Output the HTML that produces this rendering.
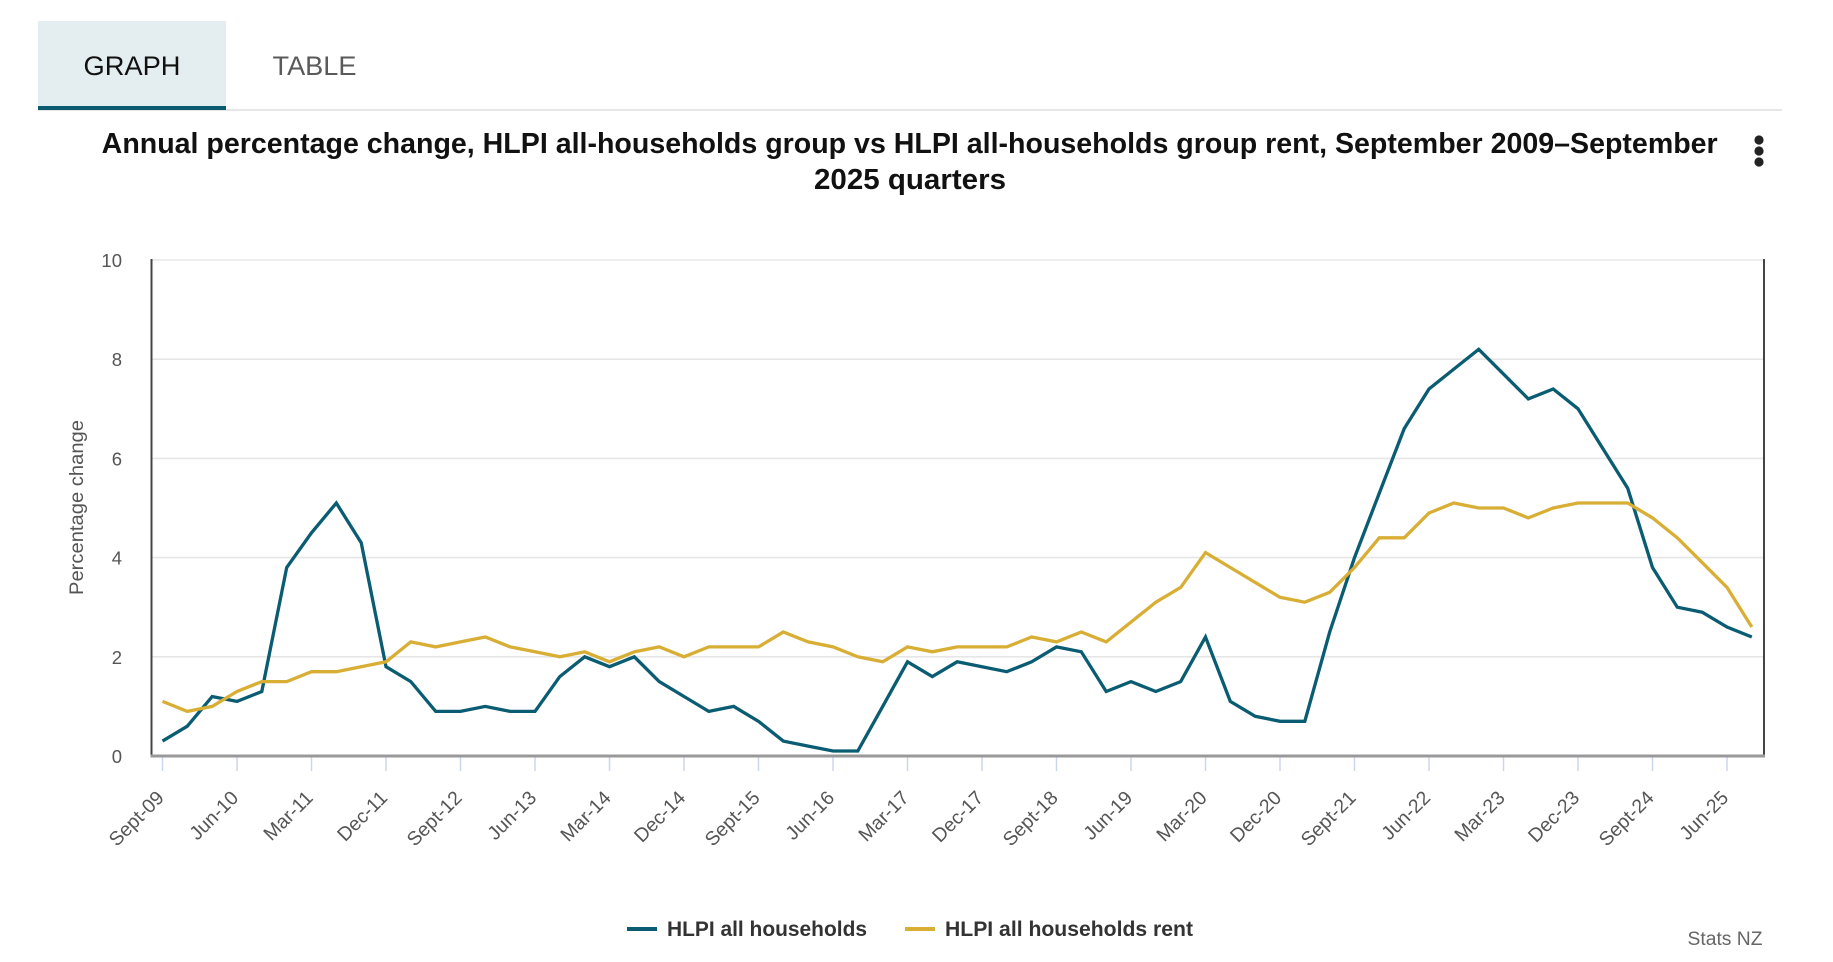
<!DOCTYPE html>
<html>
<head>
<meta charset="utf-8">
<style>
  html, body { margin: 0; padding: 0; background: #ffffff; }
  svg { display: block; }
  text { font-family: "Liberation Sans", Arial, sans-serif; }
</style>
</head>
<body>
<svg width="1833" height="962" viewBox="0 0 1833 962" xmlns="http://www.w3.org/2000/svg">
  <rect x="0" y="0" width="1833" height="962" fill="#ffffff"/>

  <!-- Tabs -->
  <rect x="38" y="21" width="188" height="89" fill="#e4edf0"/>
  <line x1="38" y1="110" x2="1782" y2="110" stroke="#dddddd" stroke-width="1.5"/>
  <rect x="38" y="106" width="188" height="4" fill="#0b5a70"/>
  <text x="132" y="75" font-size="27" fill="#111111" text-anchor="middle" textLength="97" lengthAdjust="spacingAndGlyphs">GRAPH</text>
  <text x="272.5" y="75" font-size="27" fill="#5a5a5a" textLength="84" lengthAdjust="spacingAndGlyphs">TABLE</text>

  <!-- Title -->
  <text x="101.7" y="153" font-size="28.5" font-weight="bold" fill="#111111" textLength="1616" lengthAdjust="spacingAndGlyphs">Annual percentage change, HLPI all-households group vs HLPI all-households group rent, September 2009–September</text>
  <text x="910" y="189" font-size="28.5" font-weight="bold" fill="#111111" text-anchor="middle" textLength="192" lengthAdjust="spacingAndGlyphs">2025 quarters</text>

  <!-- Menu dots -->
  <circle cx="1759" cy="140" r="4.6" fill="#222222"/>
  <circle cx="1759" cy="151" r="4.6" fill="#222222"/>
  <circle cx="1759" cy="162" r="4.6" fill="#222222"/>

  <!-- Gridlines -->
  <g stroke="#e6e6e6" stroke-width="1.6">
    <line x1="151.5" y1="260" x2="1764" y2="260"/>
    <line x1="151.5" y1="359.2" x2="1764" y2="359.2"/>
    <line x1="151.5" y1="458.4" x2="1764" y2="458.4"/>
    <line x1="151.5" y1="557.6" x2="1764" y2="557.6"/>
    <line x1="151.5" y1="656.8" x2="1764" y2="656.8"/>
  </g>

  <!-- Y labels -->
  <g font-size="18.5" fill="#555555" text-anchor="end">
    <text x="122" y="267">10</text>
    <text x="122" y="366.2">8</text>
    <text x="122" y="465.4">6</text>
    <text x="122" y="564.6">4</text>
    <text x="122" y="663.8">2</text>
    <text x="122" y="763">0</text>
  </g>

  <!-- Y axis title -->
  <text transform="translate(83,507.5) rotate(-90)" font-size="19" fill="#555555" text-anchor="middle" textLength="175" lengthAdjust="spacingAndGlyphs">Percentage change</text>

  <!-- Ticks -->
  <g stroke="#ccd6eb" stroke-width="1.5">
    <line x1="162.5" y1="757" x2="162.5" y2="771"/>
    <line x1="237" y1="757" x2="237" y2="771"/>
    <line x1="311.5" y1="757" x2="311.5" y2="771"/>
    <line x1="386" y1="757" x2="386" y2="771"/>
    <line x1="460.5" y1="757" x2="460.5" y2="771"/>
    <line x1="535" y1="757" x2="535" y2="771"/>
    <line x1="609.5" y1="757" x2="609.5" y2="771"/>
    <line x1="684" y1="757" x2="684" y2="771"/>
    <line x1="758.5" y1="757" x2="758.5" y2="771"/>
    <line x1="833" y1="757" x2="833" y2="771"/>
    <line x1="907.5" y1="757" x2="907.5" y2="771"/>
    <line x1="982" y1="757" x2="982" y2="771"/>
    <line x1="1056.5" y1="757" x2="1056.5" y2="771"/>
    <line x1="1131" y1="757" x2="1131" y2="771"/>
    <line x1="1205.5" y1="757" x2="1205.5" y2="771"/>
    <line x1="1280" y1="757" x2="1280" y2="771"/>
    <line x1="1354.5" y1="757" x2="1354.5" y2="771"/>
    <line x1="1429" y1="757" x2="1429" y2="771"/>
    <line x1="1503.5" y1="757" x2="1503.5" y2="771"/>
    <line x1="1578" y1="757" x2="1578" y2="771"/>
    <line x1="1652.5" y1="757" x2="1652.5" y2="771"/>
    <line x1="1727" y1="757" x2="1727" y2="771"/>
  </g>

  <!-- X labels -->
  <g font-size="19.5" fill="#555555" text-anchor="end">
    <text transform="translate(165,799) rotate(-45)">Sept-09</text>
    <text transform="translate(239.5,799) rotate(-45)">Jun-10</text>
    <text transform="translate(314,799) rotate(-45)">Mar-11</text>
    <text transform="translate(388.5,799) rotate(-45)">Dec-11</text>
    <text transform="translate(463,799) rotate(-45)">Sept-12</text>
    <text transform="translate(537.5,799) rotate(-45)">Jun-13</text>
    <text transform="translate(612,799) rotate(-45)">Mar-14</text>
    <text transform="translate(686.5,799) rotate(-45)">Dec-14</text>
    <text transform="translate(761,799) rotate(-45)">Sept-15</text>
    <text transform="translate(835.5,799) rotate(-45)">Jun-16</text>
    <text transform="translate(910,799) rotate(-45)">Mar-17</text>
    <text transform="translate(984.5,799) rotate(-45)">Dec-17</text>
    <text transform="translate(1059,799) rotate(-45)">Sept-18</text>
    <text transform="translate(1133.5,799) rotate(-45)">Jun-19</text>
    <text transform="translate(1208,799) rotate(-45)">Mar-20</text>
    <text transform="translate(1282.5,799) rotate(-45)">Dec-20</text>
    <text transform="translate(1357,799) rotate(-45)">Sept-21</text>
    <text transform="translate(1431.5,799) rotate(-45)">Jun-22</text>
    <text transform="translate(1506,799) rotate(-45)">Mar-23</text>
    <text transform="translate(1580.5,799) rotate(-45)">Dec-23</text>
    <text transform="translate(1655,799) rotate(-45)">Sept-24</text>
    <text transform="translate(1729.5,799) rotate(-45)">Jun-25</text>
  </g>

  <!-- Axes -->
  <line x1="151.5" y1="259" x2="151.5" y2="756" stroke="#444444" stroke-width="2"/>
  <line x1="1764" y1="259" x2="1764" y2="756" stroke="#444444" stroke-width="2"/>
  <line x1="150.5" y1="756" x2="1765" y2="756" stroke="#999999" stroke-width="3"/>

  <!-- Series: HLPI all households -->
  <polyline fill="none" stroke="#0a5c72" stroke-width="3.3" stroke-linejoin="miter" stroke-linecap="butt"
    points="162.5,741.1 187.3,726.2 212.2,696.5 237.0,701.4 261.8,691.5 286.7,567.5 311.5,532.8 336.3,503.0 361.2,542.7 386.0,666.7 410.8,681.6 435.7,711.4 460.5,711.4 485.3,706.4 510.2,711.4 535.0,711.4 559.8,676.6 584.7,656.8 609.5,666.7 634.3,656.8 659.2,681.6 684.0,696.5 708.8,711.4 733.7,706.4 758.5,721.3 783.3,741.1 808.2,746.1 833.0,751.0 857.8,751.0 882.7,706.4 907.5,661.8 932.3,676.6 957.2,661.8 982.0,666.7 1006.8,671.7 1031.7,661.8 1056.5,646.9 1081.3,651.8 1106.2,691.5 1131.0,681.6 1155.8,691.5 1180.7,681.6 1205.5,637.0 1230.3,701.4 1255.2,716.3 1280.0,721.3 1304.8,721.3 1329.7,632.0 1354.5,557.6 1379.3,493.1 1404.2,428.6 1429.0,389.0 1453.8,369.1 1478.7,349.3 1503.5,374.1 1528.3,398.9 1553.2,389.0 1578.0,408.8 1602.8,448.5 1627.7,488.2 1652.5,567.5 1677.3,607.2 1702.2,612.2 1727.0,627.0 1751.8,637.0"/>

  <!-- Series: HLPI all households rent -->
  <polyline fill="none" stroke="#d8ae35" stroke-width="3.3" stroke-linejoin="miter" stroke-linecap="butt"
    points="162.5,701.4 187.3,711.4 212.2,706.4 237.0,691.5 261.8,681.6 286.7,681.6 311.5,671.7 336.3,671.7 361.2,666.7 386.0,661.8 410.8,641.9 435.7,646.9 460.5,641.9 485.3,637.0 510.2,646.9 535.0,651.8 559.8,656.8 584.7,651.8 609.5,661.8 634.3,651.8 659.2,646.9 684.0,656.8 708.8,646.9 733.7,646.9 758.5,646.9 783.3,632.0 808.2,641.9 833.0,646.9 857.8,656.8 882.7,661.8 907.5,646.9 932.3,651.8 957.2,646.9 982.0,646.9 1006.8,646.9 1031.7,637.0 1056.5,641.9 1081.3,632.0 1106.2,641.9 1131.0,622.1 1155.8,602.2 1180.7,587.4 1205.5,552.6 1230.3,567.5 1255.2,582.4 1280.0,597.3 1304.8,602.2 1329.7,592.3 1354.5,567.5 1379.3,537.8 1404.2,537.8 1429.0,513.0 1453.8,503.0 1478.7,508.0 1503.5,508.0 1528.3,517.9 1553.2,508.0 1578.0,503.0 1602.8,503.0 1627.7,503.0 1652.5,517.9 1677.3,537.8 1702.2,562.6 1727.0,587.4 1751.8,627.0"/>

  <!-- Legend -->
  <line x1="627" y1="929" x2="657" y2="929" stroke="#0a5c72" stroke-width="4"/>
  <text x="667" y="936" font-size="21" font-weight="bold" fill="#333333" textLength="200" lengthAdjust="spacingAndGlyphs">HLPI all households</text>
  <line x1="905" y1="929" x2="935" y2="929" stroke="#d8ae35" stroke-width="4"/>
  <text x="945" y="936" font-size="21" font-weight="bold" fill="#333333" textLength="248" lengthAdjust="spacingAndGlyphs">HLPI all households rent</text>

  <!-- Credits -->
  <text x="1762.5" y="945" font-size="19" fill="#666666" text-anchor="end" textLength="75" lengthAdjust="spacingAndGlyphs">Stats NZ</text>
</svg>
</body>
</html>
